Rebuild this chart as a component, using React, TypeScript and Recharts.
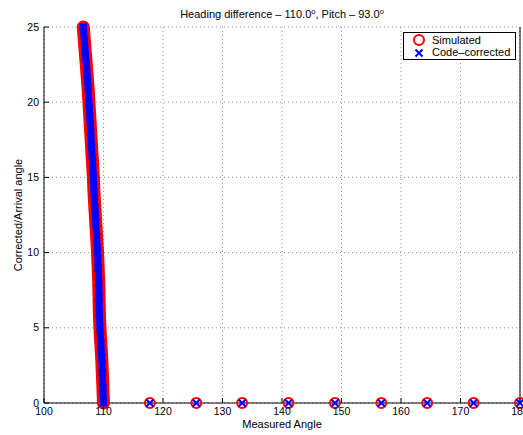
import { ScatterChart, Scatter, XAxis, YAxis, CartesianGrid } from "recharts";

const xTicks = [100, 110, 120, 130, 140, 150, 160, 170, 180];
const yTicks = [0, 5, 10, 15, 20, 25];

// steep branch near the heading difference
const steepArrival = [0, 1, 2, 3, 4, 5, 6, 7, 8, 9, 10, 11, 12, 13, 14, 15, 16, 17, 18, 19, 20, 21, 22, 23, 24, 25];
const steepMeasured = [
  110.0, 109.9, 109.8, 109.7, 109.55, 109.4, 109.3, 109.25, 109.2, 109.1, 109.0, 108.85, 108.7,
  108.55, 108.4, 108.3, 108.15, 108.0, 107.85, 107.7, 107.55, 107.4, 107.2, 107.0, 106.8, 106.6,
];

// points that fall to zero arrival angle
const flatMeasured = [117.8, 125.6, 133.3, 141.1, 148.9, 156.7, 164.4, 172.2, 180.0];
const flatArrival = [0, 0, 0, 0, 0, 0, 0, 0, 0];

const steepData = steepMeasured.map((m, i) => ({ x: m, y: steepArrival[i] }));
const flatData = flatMeasured.map((m, i) => ({ x: m, y: flatArrival[i] }));

const FONT = "'Liberation Sans', Arial, Helvetica, sans-serif";
const RED = "#ff0000";
const BLUE = "#0000ff";

const CircleMark = (p: any) => (
  <circle cx={p.cx} cy={p.cy} r={5} fill="none" stroke={RED} strokeWidth={2} />
);

const CrossMark = (p: any) => {
  const s = 3.5;
  return (
    <path
      d={`M${p.cx - s},${p.cy - s}L${p.cx + s},${p.cy + s}M${p.cx - s},${p.cy + s}L${p.cx + s},${p.cy - s}`}
      stroke={BLUE}
      strokeWidth={2}
      fill="none"
    />
  );
};

// ticks point into the axes box, like MATLAB
const BottomTick = ({ x, y, payload }: any) => (
  <g>
    <line x1={x} x2={x} y1={y} y2={y - 5} stroke="#000" />
    <text x={x} y={y + 12} textAnchor="middle" fontSize={10.5} fontFamily={FONT} fill="#000">
      {payload.value}
    </text>
  </g>
);

const LeftTick = ({ x, y, payload }: any) => (
  <g>
    <line x1={x} x2={x + 5} y1={y} y2={y} stroke="#000" />
    <text x={x - 5} y={y + 3.5} textAnchor="end" fontSize={10.5} fontFamily={FONT} fill="#000">
      {payload.value}
    </text>
  </g>
);

const TopTick = ({ x, y }: any) => <line x1={x} x2={x} y1={y} y2={y + 5} stroke="#000" />;
const RightTick = ({ x, y }: any) => <line x1={x} x2={x - 5} y1={y} y2={y} stroke="#000" />;

const LegendBox = () => (
  <div
    style={{
      position: "absolute",
      left: 403,
      top: 32,
      width: 111,
      height: 26,
      border: "1px solid #000",
      background: "#fff",
      fontFamily: FONT,
      fontSize: 11,
      zIndex: 2,
    }}
  >
    <svg width={20} height={26} style={{ position: "absolute", left: 8, top: 0 }}>
      <circle cx={7} cy={7} r={5} fill="none" stroke={RED} strokeWidth={2} />
      <path d="M3.5,16.5L10.5,23.5M3.5,23.5L10.5,16.5" stroke={BLUE} strokeWidth={2} />
    </svg>
    <div style={{ position: "absolute", left: 28, top: 1, lineHeight: "12px" }}>Simulated</div>
    <div style={{ position: "absolute", left: 28, top: 13, lineHeight: "12px" }}>Code–corrected</div>
  </div>
);

export default function App() {
  return (
    <div style={{ position: "absolute", left: 0, top: 0, width: 523, height: 435, background: "#fff", overflow: "hidden" }}>
      <div
        style={{
          position: "absolute",
          left: 44,
          top: 8,
          width: 476,
          textAlign: "center",
          fontFamily: FONT,
          fontSize: 11,
          lineHeight: "12px",
          zIndex: 2,
        }}
      >
        Heading difference – 110.0
        <span style={{ fontSize: 7.5, position: "relative", top: -4 }}>o</span>, Pitch – 93.0
        <span style={{ fontSize: 7.5, position: "relative", top: -4 }}>o</span>
      </div>
      <ScatterChart width={523} height={435} margin={{ top: 27, right: 0, bottom: 0, left: 0 }}>
        <CartesianGrid stroke="#777" strokeDasharray="1 3" strokeWidth={0.8} />
        <XAxis
          type="number"
          dataKey="x"
          domain={[100, 180]}
          ticks={xTicks}
          interval={0}
          height={32}
          tickSize={0}
          tickMargin={0}
          tick={<BottomTick />}
          axisLine={{ stroke: "#000" }}
          label={{
            value: "Measured Angle",
            position: "insideBottom",
            offset: 7,
            style: { fontSize: 11, fontFamily: FONT, fill: "#000" },
          }}
        />
        <XAxis
          xAxisId="top"
          orientation="top"
          type="number"
          domain={[100, 180]}
          ticks={xTicks}
          interval={0}
          height={0}
          tickSize={0}
          tickMargin={0}
          tick={<TopTick />}
          axisLine={{ stroke: "#000" }}
        />
        <YAxis
          type="number"
          dataKey="y"
          domain={[0, 25]}
          ticks={yTicks}
          interval={0}
          width={44}
          tickSize={0}
          tickMargin={0}
          tick={<LeftTick />}
          axisLine={{ stroke: "#000" }}
          label={{
            value: "Corrected/Arrival angle",
            angle: -90,
            position: "insideLeft",
            offset: 18,
            style: { fontSize: 11, fontFamily: FONT, fill: "#000", textAnchor: "middle" },
          }}
        />
        <YAxis
          yAxisId="right"
          orientation="right"
          type="number"
          domain={[0, 25]}
          ticks={yTicks}
          interval={0}
          width={3}
          tickSize={0}
          tickMargin={0}
          tick={<RightTick />}
          axisLine={{ stroke: "#000" }}
        />
        <Scatter
          name="Simulated"
          data={steepData}
          shape={<CircleMark />}
          fill={RED}
          line={{ stroke: RED, strokeWidth: 13, strokeLinecap: "round" }}
          isAnimationActive={false}
        />
        <Scatter name="Simulated" data={flatData} shape={<CircleMark />} fill={RED} isAnimationActive={false} />
        <Scatter
          name="Code–corrected"
          data={steepData}
          shape={<CrossMark />}
          fill={BLUE}
          line={{ stroke: BLUE, strokeWidth: 7, strokeLinecap: "round" }}
          isAnimationActive={false}
        />
        <Scatter name="Code–corrected" data={flatData} shape={<CrossMark />} fill={BLUE} isAnimationActive={false} />
      </ScatterChart>
      <LegendBox />
    </div>
  );
}
